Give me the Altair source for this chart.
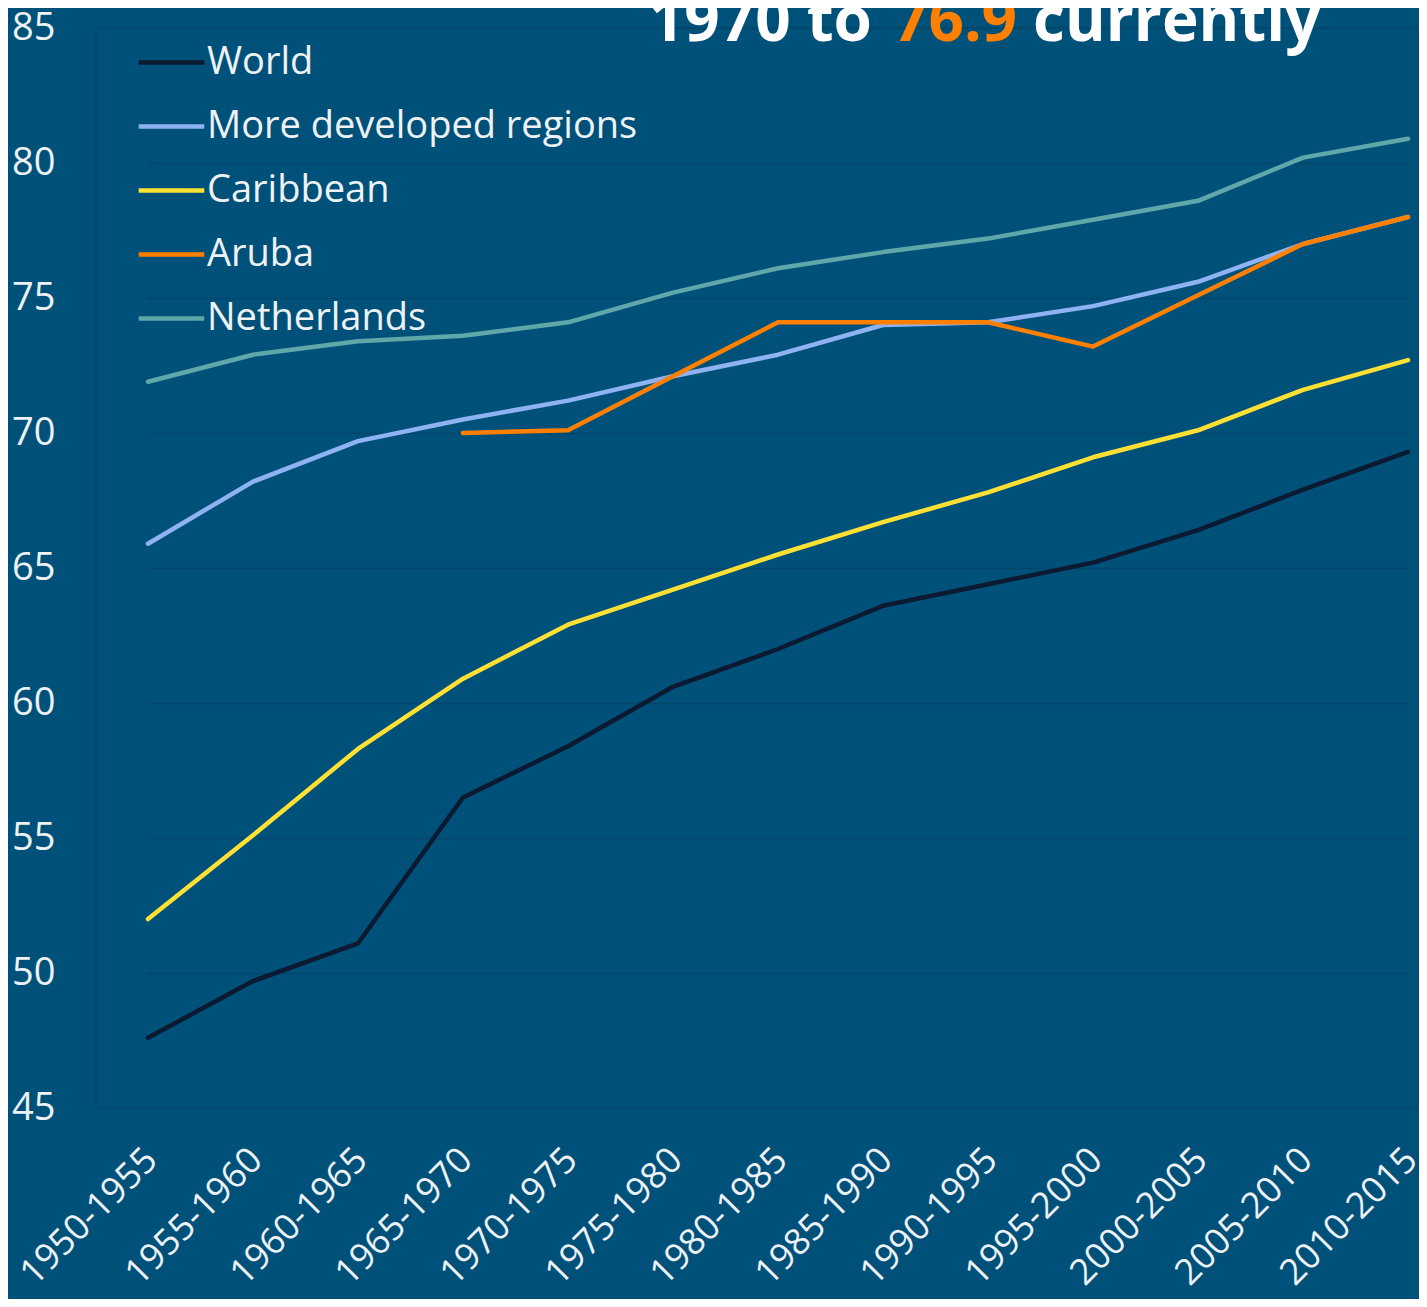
import altair as alt
import pandas as pd

periods = ["1950-1955", "1955-1960", "1960-1965", "1965-1970", "1970-1975",
           "1975-1980", "1980-1985", "1985-1990", "1990-1995", "1995-2000",
           "2000-2005", "2005-2010", "2010-2015"]

world = [47.6, 49.7, 51.1, 56.5, 58.4, 60.6, 62.0, 63.6, 64.4, 65.2, 66.4, 67.9, 69.3]
more_developed = [65.9, 68.2, 69.7, 70.5, 71.2, 72.1, 72.9, 74.0, 74.1, 74.7, 75.6, 77.0, 78.0]
caribbean = [52.0, 55.1, 58.3, 60.9, 62.9, 64.2, 65.5, 66.7, 67.8, 69.1, 70.1, 71.6, 72.7]
aruba = [None, None, None, 70.0, 70.1, 72.1, 74.1, 74.1, 74.1, 73.2, 75.1, 77.0, 78.0]
netherlands = [71.9, 72.9, 73.4, 73.6, 74.1, 75.2, 76.1, 76.7, 77.2, 77.9, 78.6, 80.2, 80.9]

series_names = ["World", "More developed regions", "Caribbean", "Aruba", "Netherlands"]
series_colors = ["#0b1a30", "#8fb3f2", "#ffe033", "#ff8000", "#5fa7a9"]
series_values = [world, more_developed, caribbean, aruba, netherlands]

title_part1 = "1970 to"
title_part2 = "76.9"
title_part3 = "currently"

rows = []
for name, vals in zip(series_names, series_values):
    for p, v in zip(periods, vals):
        if v is not None:
            rows.append({"period": p, "series": name, "value": v})
df = pd.DataFrame(rows)

FONT = "Open Sans"
BG = "#00517a"

x_enc = alt.X("period:N", sort=periods, title=None,
              scale=alt.Scale(type="point", padding=0, range=[52, 1312]),
              axis=alt.Axis(labelAngle=-45, labelAlign="right", labelBaseline="middle",
                            labelPadding=46, labelOffset=3, ticks=False, domain=False,
                            grid=False, labelLimit=500, labelOverlap=False,
                            labelFontSize=36, labelColor="#eef2f5", labelFont=FONT))
y_enc = alt.Y("value:Q", title=None,
              scale=alt.Scale(domain=[45, 85], nice=False, zero=False),
              axis=alt.Axis(values=[45, 50, 55, 60, 65, 70, 75, 80, 85],
                            ticks=False, domain=False, grid=True, gridColor="#00476b",
                            gridWidth=1.5, labelPadding=41, labelFontSize=38,
                            labelColor="#eef2f5", labelFont=FONT))
color_enc = alt.Color("series:N", sort=series_names,
                      scale=alt.Scale(domain=series_names, range=series_colors),
                      legend=alt.Legend(title=None, orient="none", legendX=40, legendY=-1,
                                        symbolType="stroke", symbolSize=4300,
                                        symbolStrokeWidth=4.5, labelFontSize=38,
                                        labelFont=FONT, labelColor="#eef2f5",
                                        labelOffset=0, rowPadding=9,
                                        labelLimit=600))

draw_order = ["World", "More developed regions", "Caribbean", "Netherlands", "Aruba"]
layers = []
for name in draw_order:
    layers.append(
        alt.Chart(df).transform_filter(alt.datum.series == name)
        .mark_line(strokeWidth=4.5, strokeCap="round", strokeJoin="round")
        .encode(x=x_enc, y=y_enc, color=color_enc)
    )

t1 = alt.Chart(pd.DataFrame({"t": [title_part1]})).mark_text(
    font=FONT, fontSize=62, fontWeight="bold", color="#ffffff",
    align="right", baseline="alphabetic").encode(
    text="t:N", x=alt.value(776), y=alt.value(13))
t2 = alt.Chart(pd.DataFrame({"t": [title_part2]})).mark_text(
    font=FONT, fontSize=62, fontWeight="bold", color="#ff8000",
    align="left", baseline="alphabetic").encode(
    text="t:N", x=alt.value(797), y=alt.value(13))
t3 = alt.Chart(pd.DataFrame({"t": [title_part3]})).mark_text(
    font=FONT, fontSize=62, fontWeight="bold", color="#ffffff",
    align="left", baseline="alphabetic").encode(
    text="t:N", x=alt.value(937), y=alt.value(13))

chart = alt.layer(*layers, t1, t2, t3).properties(
    width=1323, height=1080,
    autosize=alt.AutoSizeParams(type="none"),
    padding={"left": 88, "top": 20, "right": 0, "bottom": 191},
    background=BG,
).configure_view(fill=BG, stroke="#00476b", strokeWidth=1.5)

chart.save("out.html", embed_options={"renderer": "svg", "actions": False})
